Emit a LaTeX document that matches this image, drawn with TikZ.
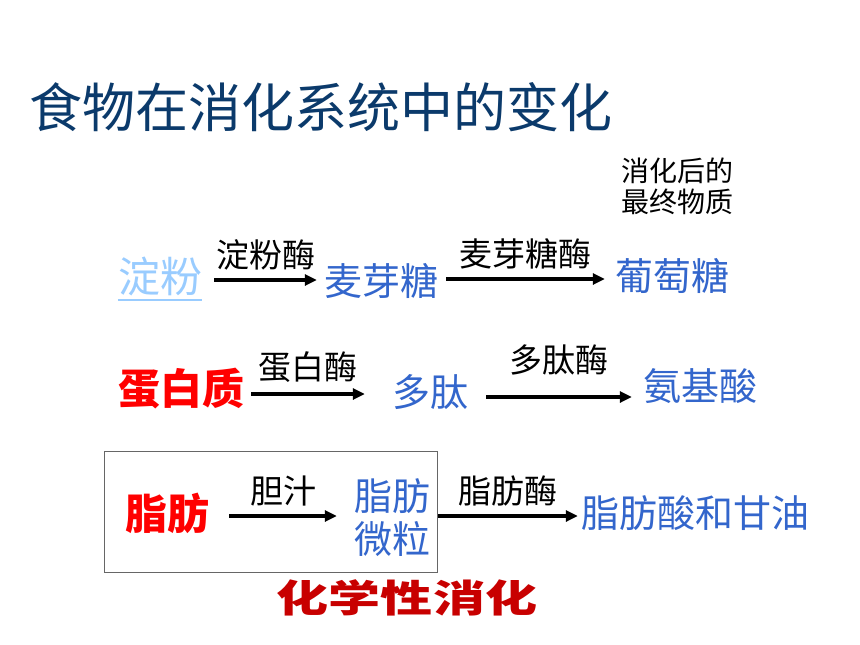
\documentclass[tikz,border=0pt]{standalone}
\usepackage{graphicx}
\usepackage{fontspec}
\setmainfont{Noto Sans CJK SC}
\newfontfamily\cjk{Noto Sans CJK SC}
\usetikzlibrary{arrows.meta,calc}
\definecolor{titleblue}{HTML}{0B3A6B}
\definecolor{txtblue}{HTML}{3366CC}
\definecolor{lightblue}{HTML}{99CCFF}
\definecolor{darkred}{HTML}{C80000}
\begin{document}
\begin{tikzpicture}[x=1pt,y=-1pt,
  every node/.style={inner sep=0pt,font=\cjk},
  sub/.style={font=\cjk\fontsize{38}{44}\selectfont,text=txtblue},
  src/.style={font=\cjk\bfseries\fontsize{42}{48}\selectfont,text=red},
  enz/.style={font=\cjk\fontsize{33}{38}\selectfont,text=black},
  arr/.style={line width=3.2pt,-{Triangle[length=12pt,width=11pt]}}]
\useasboundingbox[fill=white] (0,0) rectangle (860,645);
\node (title) at (321,107) {\fontsize{53}{60}\selectfont\color{titleblue}食物在消化系统中的变化};
\node[align=center,font=\cjk\fontsize{28}{31}\selectfont] (final) at (677,186) {消化后的\\最终物质};
% row 1
\node[font=\cjk\fontsize{42}{48}\selectfont,text=lightblue] (dianfen) at (160,276) {淀粉};
\draw[lightblue,line width=2pt] ($(dianfen.south west)+(0,4)$) -- ($(dianfen.south east)+(0,4)$);
\node[sub] (maiya) at (381,281) {麦芽糖};
\node[sub] (putao) at (672,276) {葡萄糖};
\draw[arr] ($(dianfen.east)+(12,4)$) -- ($(maiya.west)+(-7,-1)$) node[enz,midway,above=8pt] (e1) {淀粉酶};
\draw[arr] ($(maiya.east)+(8,-2)$) -- ($(putao.west)+(-10,3)$) node[enz,midway,above=8pt] (e2) {麦芽糖酶};
% row 2
\node[src] (dbz) at (181,389) {蛋白质};
\node[sub] (duotai) at (430,392) {多肽};
\node[sub] (ajs) at (700,386) {氨基酸};
\draw[arr] ($(dbz.east)+(7,5)$) -- ($(duotai.west)+(-27,2)$) node[enz,midway,above=10pt] (e3) {蛋白酶};
\draw[arr] ($(duotai.east)+(18,5)$) -- ($(ajs.west)+(-11,11)$) node[enz,midway,above=20pt] (e4) {多肽酶};
% row 3
\node[draw=black!60,line width=0.8pt,minimum width=333pt,minimum height=121pt] (box) at (270.5,511.5) {};
\node[src] (zf) at (167,513) {脂肪};
\node[sub,align=center,font=\cjk\fontsize{38}{43}\selectfont] (wl) at (392,518) {脂肪\\微粒};
\node[sub] (zfs) at (695,513) {脂肪酸和甘油};
\draw[arr] ($(zf.east)+(20,3)$) -- ($(wl.west)+(-17,-2)$) node[enz,midway,above=8pt] (e5) {胆汁};
\draw[arr] ($(box.east)+(1,4.5)$) -- ($(zfs.west)+(-3,3)$) node[enz,midway,above=8pt] (e6) {脂肪酶};
\node[text=darkred] (chem) at (407,598) {\scalebox{1.37}[1]{\cjk\bfseries\fontsize{38}{44}\selectfont 化学性消化}};
\end{tikzpicture}
\end{document}
